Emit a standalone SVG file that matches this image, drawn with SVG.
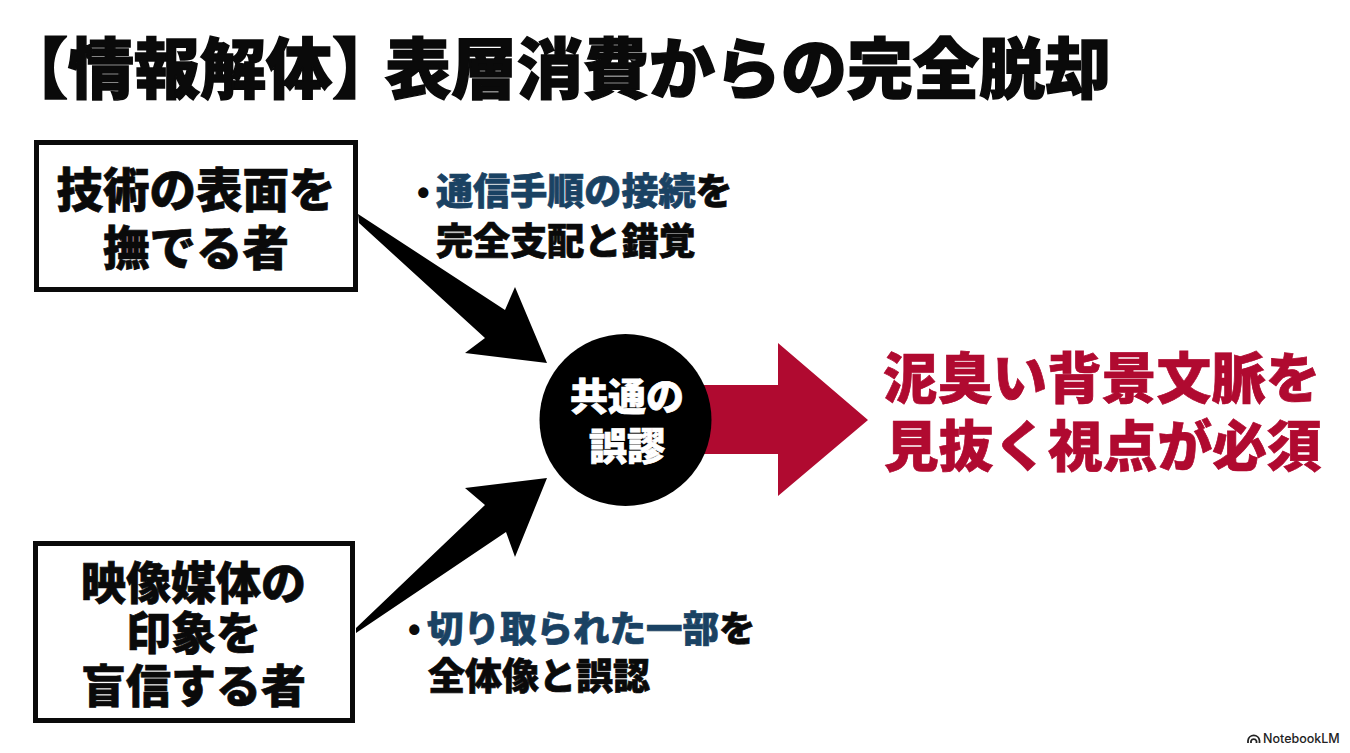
<svg xmlns="http://www.w3.org/2000/svg" width="1350" height="753" viewBox="0 0 1350 753">
<style>
text{font-family:"Noto Sans CJK JP","Noto Sans",sans-serif;font-weight:900;fill:#0a0a0a;stroke:#0a0a0a;stroke-width:.7px}
.box{fill:#fff;stroke:#0a0a0a;stroke-width:5}
.node{text-anchor:middle}
.note{font-size:37px}
.blue{fill:#1a4263;stroke:#1a4263}
.red{font-size:54.700px;fill:#b00a30;stroke:#b00a30}
.ttl{font-size:66px;stroke-width:1.500px}
.inv{font-size:38px;text-anchor:middle;fill:#fff;stroke:#fff}
.dot{font-family:"Liberation Sans",sans-serif;font-weight:700;font-size:36px;stroke:none}
</style>
<rect width="1350" height="753" fill="#fff"/>
<g id="title">
<text class="ttl" x="2" y="93">【情報解体】</text>
<text class="ttl" x="385" y="93">表層消費からの完全脱却</text>
</g>
<g id="connectors">
<path d="M358 214L505 310L515 287L547 363L465 353L485 338L359 223Z" fill="#000"/>
<path d="M356 633L506 532L515 557L547 478L465 488L485 505L356 628Z" fill="#000"/>
<path d="M700 385H778V343L868 420L778 496V454H700Z" fill="#b00a30"/>
</g>
<g id="node-surface">
<rect class="box" x="36.500" y="142.500" width="319" height="147"/>
<text class="node" font-size="46.500"><tspan x="196" y="207">技術の表面を</tspan><tspan x="196" y="265">撫でる者</tspan></text>
</g>
<g id="node-media">
<rect class="box" x="35.500" y="543.500" width="317" height="177"/>
<text class="node" font-size="45"><tspan x="193.500" y="600">映像媒体の</tspan><tspan x="193.500" y="650">印象を</tspan><tspan x="193.500" y="703">盲信する者</tspan></text>
</g>
<g id="node-error">
<circle cx="625.500" cy="420" r="86" fill="#000"/>
<text class="inv"><tspan x="627" y="410">共通の</tspan><tspan x="627" y="460">誤謬</tspan></text>
</g>
<g id="node-result">
<text class="red"><tspan x="883" y="398">泥臭い背景文脈を</tspan><tspan x="884" y="466">見抜く視点が必須</tspan></text>
</g>
<g id="note-top">
<text class="dot" x="417" y="205">•</text>
<text class="note"><tspan x="436" y="205" class="blue" font-size="37.100">通信手順の接続</tspan><tspan font-size="37.100">を</tspan><tspan x="436" y="254.500" font-size="37.100">完全支配と錯覚</tspan></text>
</g>
<g id="note-bottom">
<text class="dot" x="408" y="642">•</text>
<text class="note"><tspan x="427" y="642" class="blue" font-size="36.500">切り取られた一部</tspan><tspan font-size="36.500">を</tspan><tspan x="428" y="690">全体像と誤認</tspan></text>
</g>
<g id="watermark">
<path d="M1248 743v-2.500a5.800 5.800 0 0 1 11.500 0v2.500M1251 743v-2a3 3 0 0 1 5.500 0v2" fill="none" stroke="#222" stroke-width="1.800"/>
<text x="1263" y="742.500" font-size="12.500" style="font-family:Inter,'Liberation Sans',sans-serif;font-weight:500;fill:#222;stroke:none">NotebookLM</text>
</g>
</svg>
